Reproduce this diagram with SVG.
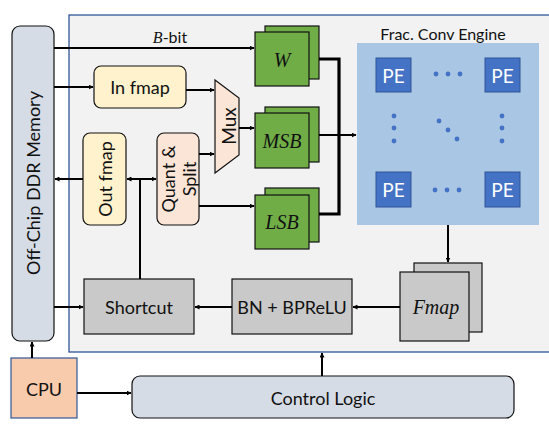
<svg xmlns="http://www.w3.org/2000/svg" width="549" height="435" viewBox="0 0 549 435">
<defs>
<marker id="ah" viewBox="0 0 10 10" refX="9" refY="5" markerWidth="5" markerHeight="5" orient="auto-start-reverse" markerUnits="userSpaceOnUse">
<path d="M0,0 L10,5 L0,10 z" fill="#000"/>
</marker>
<style>
.t{font-family:Lato,"Open Sans",sans-serif;font-size:18px;fill:#111;text-anchor:middle;dominant-baseline:central}
.it{font-family:"Liberation Serif",serif;font-style:italic;font-size:20px;fill:#111;text-anchor:middle;dominant-baseline:central}
.ln{stroke:#000;stroke-width:2;fill:none}
.grn{fill:#70ad47;stroke:#111;stroke-width:1.2}
.gry{fill:#c9c9c9;stroke:#111;stroke-width:1.2}
.pe{fill:#4472c4;stroke:#2f5597;stroke-width:1}
.pt{fill:#fff;font-size:19px}
.dot{fill:#4472c4}
</style>
</defs>
<rect x="0" y="0" width="549" height="435" fill="#fff"/>
<g id="panel"><rect x="69" y="15" width="500" height="337" fill="#f2f2f2" stroke="#2f5597" stroke-width="1.3"/></g>

<g id="ddr"><rect x="12" y="26" width="42" height="315" rx="8" fill="#d6dce5" stroke="#111" stroke-width="1.2"/>
<text class="t" transform="translate(33,183) rotate(-90)">Off-Chip DDR Memory</text></g>

<g id="cpu"><rect x="11" y="358" width="66" height="60" fill="#f8cbad" stroke="#2f5597" stroke-width="1.2"/><text class="t" x="44" y="389">CPU</text></g>

<g id="control"><rect x="132" y="376" width="382" height="42" rx="8" fill="#d6dce5" stroke="#111" stroke-width="1.2"/><text class="t" x="323" y="398">Control Logic</text></g>

<g id="infmap"><rect x="94" y="66" width="92" height="42" rx="7" fill="#fff2cc" stroke="#111" stroke-width="1.2"/><text class="t" x="140" y="87">In fmap</text></g>

<g id="outfmap"><rect x="83" y="133" width="43" height="92" rx="7" fill="#fff2cc" stroke="#111" stroke-width="1.2"/><text class="t" transform="translate(105,179) rotate(-90)">Out fmap</text></g>

<g id="quant"><rect x="157" y="133" width="42" height="92" rx="7" fill="#fbe5d6" stroke="#111" stroke-width="1.2"/>
<text class="t" transform="translate(178,179) rotate(-90)"><tspan x="0" dy="-10">Quant &amp;</tspan><tspan x="0" dy="21">Split</tspan></text></g>

<g id="mux"><polygon points="215,80 239,98 239,155 215,173" fill="#fbe5d6" stroke="#111" stroke-width="1.2"/><text class="t" transform="translate(228,126) rotate(-90)" style="font-size:19px">Mux</text></g>

<g id="w"><rect class="grn" x="265" y="26" width="54" height="53"/><rect class="grn" x="255" y="32" width="54" height="54"/><text class="it" x="282" y="60">W</text></g>
<g id="msb"><rect class="grn" x="265" y="107" width="54" height="55"/><rect class="grn" x="255" y="113" width="54" height="55"/><text class="it" x="282" y="141">MSB</text></g>
<g id="lsb"><rect class="grn" x="265" y="188" width="54" height="54"/><rect class="grn" x="255" y="195" width="54" height="54"/><text class="it" x="282" y="222">LSB</text></g>

<g id="engine">
<text class="t" x="443" y="33" style="font-size:16px">Frac. Conv Engine</text>
<rect x="357" y="43" width="182" height="182" fill="#a9c6e4"/>
<rect class="pe" x="376" y="58" width="35" height="34"/><text class="t pt" x="393.5" y="75">PE</text>
<rect class="pe" x="485" y="58" width="35" height="34"/><text class="t pt" x="502.5" y="75">PE</text>
<rect class="pe" x="376" y="172" width="35" height="35"/><text class="t pt" x="393.5" y="189.5">PE</text>
<rect class="pe" x="485" y="172" width="35" height="35"/><text class="t pt" x="502.5" y="189.5">PE</text>
<circle class="dot" cx="436" cy="74" r="2.4"/><circle class="dot" cx="448" cy="74" r="2.4"/><circle class="dot" cx="460" cy="74" r="2.4"/>
<circle class="dot" cx="435" cy="190" r="2.4"/><circle class="dot" cx="447" cy="190" r="2.4"/><circle class="dot" cx="459" cy="190" r="2.4"/>
<circle class="dot" cx="394" cy="116" r="2.4"/><circle class="dot" cx="394" cy="128" r="2.4"/><circle class="dot" cx="394" cy="141" r="2.4"/>
<circle class="dot" cx="502" cy="116" r="2.4"/><circle class="dot" cx="502" cy="128" r="2.4"/><circle class="dot" cx="502" cy="141" r="2.4"/>
<circle class="dot" cx="439" cy="121" r="2.4"/><circle class="dot" cx="448" cy="130" r="2.4"/><circle class="dot" cx="457" cy="139" r="2.4"/>
</g>

<g id="fmap"><rect class="gry" x="414" y="263" width="68" height="69"/><rect class="gry" x="400" y="272" width="69" height="69"/><text class="it" x="436" y="307">Fmap</text></g>
<g id="bn"><rect class="gry" x="232" y="279" width="120" height="55"/><text class="t" x="292" y="307">BN + BPReLU</text></g>
<g id="shortcut"><rect class="gry" x="84" y="279" width="110" height="55"/><text class="t" x="139" y="307">Shortcut</text></g>

<g id="connectors">
<line class="ln" x1="54" y1="48" x2="254" y2="48" marker-end="url(#ah)"/>
<text x="170" y="43" style="font-family:Lato,sans-serif;font-size:16px;fill:#111;text-anchor:middle"><tspan style="font-style:italic;font-family:'Liberation Serif',serif">B</tspan>-bit</text>
<line class="ln" x1="54" y1="87" x2="93" y2="87" marker-end="url(#ah)"/>
<line class="ln" x1="186" y1="90" x2="214" y2="90" marker-end="url(#ah)"/>
<line class="ln" x1="239" y1="128" x2="254" y2="128" marker-end="url(#ah)"/>
<line class="ln" x1="199" y1="154" x2="214" y2="154" marker-end="url(#ah)"/>
<line class="ln" x1="199" y1="206" x2="254" y2="206" marker-end="url(#ah)"/>
<line class="ln" x1="83" y1="179" x2="55" y2="179" marker-end="url(#ah)"/>
<line class="ln" x1="127" y1="179" x2="156" y2="179" marker-start="url(#ah)" marker-end="url(#ah)"/>
<line class="ln" x1="140" y1="279" x2="140" y2="179"/>
<polyline points="319,59 339,59 339,214 319,214" fill="none" stroke="#000" stroke-width="3.2"/>
<line class="ln" x1="319" y1="135" x2="339" y2="135"/>
<line class="ln" x1="339" y1="135" x2="356" y2="135" marker-end="url(#ah)"/>
<line class="ln" x1="448" y1="225" x2="448" y2="262" marker-end="url(#ah)"/>
<line class="ln" x1="400" y1="307" x2="353" y2="307" marker-end="url(#ah)"/>
<line class="ln" x1="232" y1="307" x2="195" y2="307" marker-end="url(#ah)"/>
<line class="ln" x1="54" y1="307" x2="83" y2="307" marker-end="url(#ah)"/>
<line class="ln" x1="32" y1="358" x2="32" y2="342" marker-end="url(#ah)"/>
<line class="ln" x1="77" y1="393" x2="131" y2="393" marker-end="url(#ah)"/>
<line class="ln" x1="322" y1="376" x2="322" y2="353" marker-end="url(#ah)"/>
</g>
</svg>
